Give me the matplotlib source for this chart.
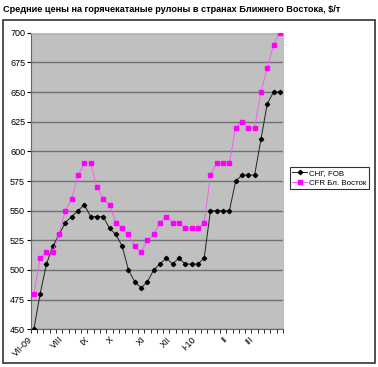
import matplotlib
matplotlib.use("Agg")
import matplotlib.pyplot as plt
from matplotlib.patches import Rectangle

plt.rcParams['font.family'] = ['Liberation Sans', 'DejaVu Sans']

# Недельные цены, $/т
cis_fob = [450, 480, 505, 520, 530, 540, 545, 550, 555, 545,
           545, 545, 535, 530, 520, 500, 490, 485, 490, 500,
           505, 510, 505, 510, 505, 505, 505, 510, 550, 550,
           550, 550, 575, 580, 580, 580, 610, 640, 650, 650]
cfr_me = [480, 510, 515, 515, 530, 550, 560, 580, 590, 590,
          570, 560, 555, 540, 535, 530, 520, 515, 525, 530,
          540, 545, 540, 540, 535, 535, 535, 540, 580, 590,
          590, 590, 620, 625, 620, 620, 650, 670, 690, 700]
month_pos = [0, 5, 9, 13, 18, 22, 26, 31, 35]
month_labels = ["VII-09", "VIII", "IX", "X", "XI", "XII", "I-10", "II", "III"]
y_ticks = [450, 475, 500, 525, 550, 575, 600, 625, 650, 675, 700]

W, H = 378, 367
fig = plt.figure(figsize=(W / 100, H / 100), dpi=100)

# рамка области диаграммы
fig.patches.append(Rectangle((3 / W, (H - 363) / H), 372 / W, 343 / H,
                             transform=fig.transFigure, fill=False,
                             edgecolor='#333333', linewidth=1.2))

fig.text(3 / W, 1 - 9 / H, "Средние цены на горячекатаные рулоны в странах Ближнего Востока, $/т",
         fontsize=6.6, fontweight='bold', va='center', ha='left')

ax = fig.add_axes([30.7 / W, (H - 329.3) / H, 252.3 / W, 296.6 / H])
ax.set_facecolor('#C0C0C0')

x = list(range(len(cis_fob)))
ax.plot(x, cis_fob, color='#222222', lw=0.7, marker='D', markersize=2.2,
        markerfacecolor='black', markeredgecolor='black', label="СНГ, FOB", zorder=3)
ax.plot(x, cfr_me, color='#F060F0', lw=0.7, marker='s', markersize=2.6,
        markerfacecolor='#FF00FF', markeredgecolor='#FF00FF', label="CFR Бл. Восток", zorder=3)

ax.set_xlim(-0.5, len(x) - 0.5)
ax.set_ylim(450, 700)
ax.set_yticks(y_ticks)
ax.yaxis.grid(True, color='#707070', lw=1.0)
ax.set_axisbelow(True)
ax.tick_params(axis='y', labelsize=6.5, length=3, width=0.8, pad=1)

ax.set_xticks([i - 0.5 for i in range(len(x) + 1)], minor=True)
ax.set_xticks(month_pos)
ax.set_xticklabels(month_labels, rotation=45, ha='right', va='top', fontsize=6.5)
ax.tick_params(axis='x', which='major', length=0, pad=4)
ax.tick_params(axis='x', which='minor', length=3, width=0.6)

for side in ['top', 'right']:
    ax.spines[side].set_color('#C0C0C0')
ax.spines['left'].set_color('#666666')
ax.spines['bottom'].set_color('#666666')

leg = fig.legend(loc='upper left', bbox_to_anchor=(290 / W, 1 - 166.7 / H),
                 fontsize=5.7, frameon=True, fancybox=False, edgecolor='black',
                 handlelength=1.8, borderpad=0.3, labelspacing=0.35,
                 handletextpad=0.3, borderaxespad=0)
leg.get_frame().set_linewidth(0.8)

fig.savefig("out.png", dpi=100)
